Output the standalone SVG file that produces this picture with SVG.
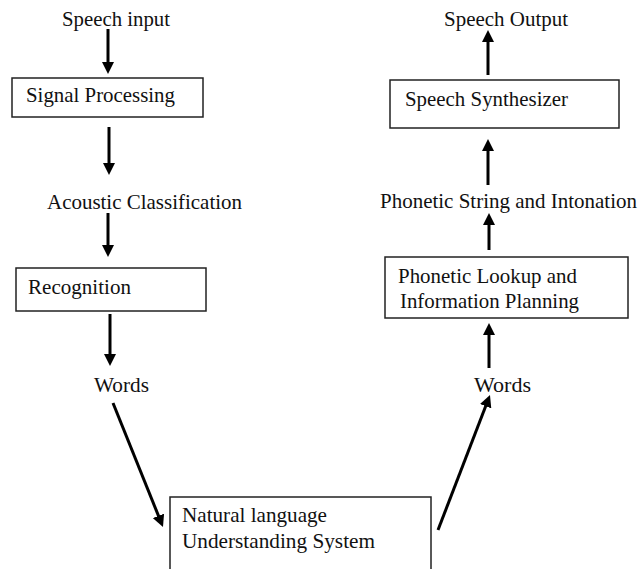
<svg xmlns="http://www.w3.org/2000/svg" width="641" height="569" viewBox="0 0 641 569">
<defs>
<marker id="ah" markerUnits="userSpaceOnUse" markerWidth="12" markerHeight="12" refX="4" refY="6" orient="auto">
<path d="M0,0 L12,6 L0,12 z" fill="#000"/>
</marker>
<style>
text{font-family:"Liberation Serif","Times New Roman",serif;font-size:21px;fill:#111}
.box{fill:#fff;stroke:#222;stroke-width:1.5}
.conn line{stroke:#000;stroke-width:3;marker-end:url(#ah)}
</style>
</defs>
<rect width="641" height="569" fill="#fff"/>
<g id="speech-input"><text x="62" y="26" textLength="108" lengthAdjust="spacingAndGlyphs">Speech input</text></g>
<g id="signal-processing"><rect class="box" x="12" y="78" width="191" height="39"/><text x="26" y="102" textLength="149" lengthAdjust="spacingAndGlyphs">Signal Processing</text></g>
<g id="acoustic-classification"><text x="47" y="209" textLength="195" lengthAdjust="spacingAndGlyphs">Acoustic Classification</text></g>
<g id="recognition"><rect class="box" x="16" y="268" width="190" height="43"/><text x="28" y="294" textLength="103" lengthAdjust="spacingAndGlyphs">Recognition</text></g>
<g id="words-left"><text x="94" y="392" textLength="55" lengthAdjust="spacingAndGlyphs">Words</text></g>
<g id="nlu"><rect class="box" x="170" y="497" width="261" height="80"/><text x="182" y="522" textLength="145" lengthAdjust="spacingAndGlyphs">Natural language</text><text x="182" y="548" textLength="193" lengthAdjust="spacingAndGlyphs">Understanding System</text></g>
<g id="words-right"><text x="474" y="392" textLength="57" lengthAdjust="spacingAndGlyphs">Words</text></g>
<g id="phonetic-lookup"><rect class="box" x="385" y="257" width="243" height="61"/><text x="398" y="283" textLength="179" lengthAdjust="spacingAndGlyphs">Phonetic Lookup and</text><text x="400" y="308" textLength="179" lengthAdjust="spacingAndGlyphs">Information Planning</text></g>
<g id="phonetic-string"><text x="380" y="208" textLength="257" lengthAdjust="spacingAndGlyphs">Phonetic String and Intonation</text></g>
<g id="speech-synthesizer"><rect class="box" x="390" y="80" width="229" height="48"/><text x="405" y="106" textLength="163" lengthAdjust="spacingAndGlyphs">Speech Synthesizer</text></g>
<g id="speech-output"><text x="444" y="26" textLength="124" lengthAdjust="spacingAndGlyphs">Speech Output</text></g>
<g class="conn" id="connectors">
<line x1="108" y1="29" x2="108" y2="66"/>
<line x1="109" y1="127" x2="109" y2="167"/>
<line x1="108" y1="213" x2="108" y2="249"/>
<line x1="110" y1="314" x2="110" y2="358"/>
<line x1="113" y1="403" x2="160" y2="519.6"/>
<line x1="438" y1="530" x2="487.1" y2="402.5"/>
<line x1="489" y1="368" x2="489" y2="331"/>
<line x1="489" y1="250" x2="489" y2="221"/>
<line x1="488" y1="185" x2="488" y2="147"/>
<line x1="488" y1="75" x2="488" y2="38"/>
</g>
</svg>
